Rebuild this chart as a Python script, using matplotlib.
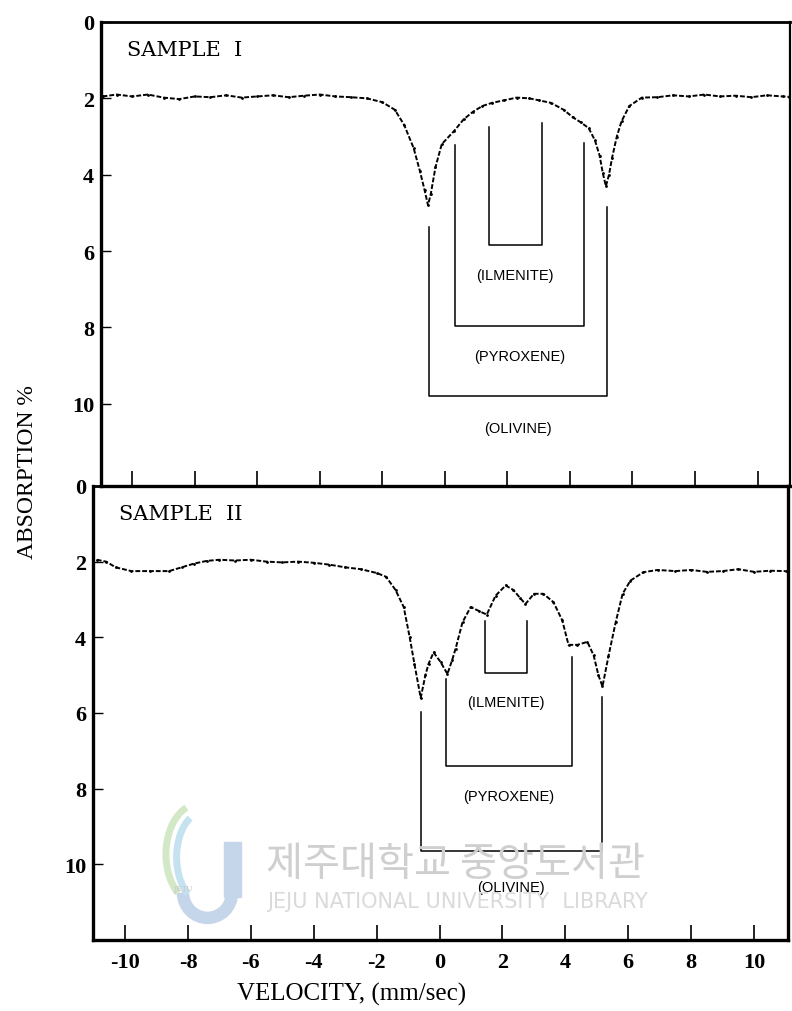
import numpy as np
import matplotlib.pyplot as plt
from matplotlib.patches import Rectangle, Arc

# Mossbauer spectra
vel_1 = [-10.95, -10.5, -10.0, -9.5, -9.0, -8.5, -8.0, -7.5, -7.0, -6.5, -6.0, -5.5,
         -5.0, -4.5, -4.0, -3.5, -3.0, -2.5, -2.0, -1.6, -1.3, -1.0, -0.8, -0.65,
         -0.54, -0.45, -0.3, -0.1, 0.3, 0.6, 0.9, 1.2, 1.5, 1.9, 2.3, 2.7, 3.0, 3.4,
         3.8, 4.1, 4.35, 4.6, 4.8, 4.95, 5.05, 5.15, 5.25, 5.35, 5.5, 5.65, 5.9, 6.3,
         6.8, 7.3, 7.8, 8.3, 8.8, 9.3, 9.8, 10.3, 10.8, 11.0]
abs_1 = [1.95, 1.9, 1.95, 1.9, 1.98, 2.02, 1.95, 1.97, 1.92, 1.98, 1.95, 1.92,
         1.97, 1.93, 1.9, 1.95, 1.97, 2.0, 2.1, 2.3, 2.7, 3.3, 3.9, 4.4,
         4.8, 4.5, 3.8, 3.2, 2.85, 2.55, 2.35, 2.2, 2.12, 2.05, 1.98, 2.0, 2.05, 2.12,
         2.3, 2.5, 2.63, 2.78, 3.1, 3.5, 3.95, 4.3, 4.0, 3.55, 3.0, 2.6, 2.2, 1.98,
         1.97, 1.92, 1.95, 1.9, 1.95, 1.93, 1.97, 1.92, 1.95, 1.96]

vel_2 = [-10.9, -10.6, -10.3, -9.8, -9.2, -8.6, -8.2, -7.8, -7.4, -7.0, -6.5, -6.0,
         -5.5, -5.0, -4.5, -4.0, -3.5, -3.0, -2.5, -2.0, -1.7, -1.4, -1.14, -0.95,
         -0.8, -0.6, -0.45, -0.35, -0.19, 0.03, 0.25, 0.4, 0.51, 0.73, 0.99, 1.24,
         1.5, 1.78, 2.1, 2.35, 2.55, 2.73, 3.0, 3.3, 3.62, 3.9, 4.1, 4.38, 4.7, 4.9,
         5.05, 5.18, 5.37, 5.6, 5.82, 6.07, 6.48, 6.93, 7.5, 8.0, 8.5, 9.0, 9.5,
         10.0, 10.5, 11.0]
abs_2 = [1.95, 2.0, 2.15, 2.25, 2.25, 2.25, 2.15, 2.05, 1.98, 1.95, 1.97, 1.95,
         2.0, 2.02, 2.0, 2.03, 2.08, 2.15, 2.2, 2.3, 2.4, 2.75, 3.2, 4.0,
         4.7, 5.6, 5.0, 4.7, 4.4, 4.65, 4.97, 4.6, 4.3, 3.6, 3.2, 3.3,
         3.4, 2.9, 2.63, 2.75, 2.95, 3.12, 2.85, 2.85, 3.07, 3.55, 4.2, 4.2, 4.12, 4.48,
         5.0, 5.3, 4.5, 3.6, 2.85, 2.5, 2.28, 2.22, 2.25, 2.22, 2.27, 2.25, 2.2,
         2.27, 2.24, 2.25]

# doublet brackets: name, left x, right x, left top, right top, bottom, label y
brackets_1 = [
    ("(ILMENITE)", 1.41, 3.10, 2.74, 2.65, 5.84, 6.63),
    ("(PYROXENE)", 0.32, 4.45, 3.21, 3.16, 7.95, 8.74),
    ("(OLIVINE)", -0.51, 5.18, 5.37, 4.84, 9.79, 10.63),
]
brackets_2 = [
    ("(ILMENITE)", 1.43, 2.77, 3.58, 3.58, 4.95, 5.7),
    ("(PYROXENE)", 0.22, 4.20, 5.10, 4.53, 7.40, 8.2),
    ("(OLIVINE)", -0.60, 5.15, 5.98, 5.57, 9.65, 10.6),
]

y_ticks = [0, 2, 4, 6, 8, 10]
x_ticks = [-10, -8, -6, -4, -2, 0, 2, 4, 6, 8, 10]

fig = plt.figure(figsize=(7.92, 10.12), dpi=100)
ax1 = fig.add_axes([0.1275, 0.5188, 0.870, 0.4585])
ax2 = fig.add_axes([0.1174, 0.0702, 0.8776, 0.4486])


def draw_panel(ax, vel, absn, brackets, name, xlim, ylim, show_xlabels):
    ax.plot(vel, absn, color="black", lw=1.4, ls=(0, (2.5, 1)))
    ax.plot(vel, absn, ".", color="black", ms=2)
    for lab, xl, xr, yl, yr, yb, ylab in brackets:
        ax.plot([xl, xl, xr, xr], [yl, yb, yb, yr], color="black", lw=1.1)
        ax.text((xl + xr) / 2, ylab, lab, ha="center", va="center",
                fontsize=10.5, family="Liberation Sans")
    ax.set_xlim(*xlim)
    ax.set_ylim(ylim, 0)
    ax.set_yticks(y_ticks)
    ax.set_xticks(x_ticks)
    ax.tick_params(axis="y", direction="in", length=7, width=1, pad=5,
                   labelsize=16)
    ax.tick_params(axis="x", direction="in", length=11, width=1.2, pad=9,
                   labelsize=16, labelbottom=show_xlabels)
    for lbl in ax.get_xticklabels() + ax.get_yticklabels():
        lbl.set_family("Liberation Serif")
        lbl.set_fontweight("bold")
    ax.set_xticklabels([str(t) for t in x_ticks] if show_xlabels else [],
                       family="Liberation Serif", fontweight="bold")
    for s in ["left", "bottom"]:
        ax.spines[s].set_linewidth(2.4)
    ax.spines["top"].set_linewidth(2.0)
    ax.spines["right"].set_linewidth(1.6)
    ax.text(0.038, 0.94, name, transform=ax.transAxes, fontsize=15,
            family="DejaVu Serif", va="center")
    ax.set_facecolor("none")


draw_panel(ax1, vel_1, abs_1, brackets_1, "SAMPLE  I", (-11.0, 11.04), 12.15, False)
draw_panel(ax2, vel_2, abs_2, brackets_2, "SAMPLE  II", (-11.02, 11.08), 12.0, True)
ax2.spines["right"].set_linewidth(2.4)

fig.text(0.035, 0.5336, "ABSORPTION %", rotation=90, ha="center", va="center",
         fontsize=17, family="Liberation Serif")
fig.text(0.444, 0.017, "VELOCITY, (mm/sec)", ha="center", va="center",
         fontsize=18, family="Liberation Serif")

# library watermark
fig.text(0.5745, 0.1453, "제주대학교 중앙도서관", ha="center", va="center",
         fontsize=29, color="#cfcfcf", family=["Noto Sans CJK KR", "DejaVu Sans"],
         zorder=0)
fig.text(0.578, 0.1087, "JEJU NATIONAL UNIVERSITY  LIBRARY", ha="center",
         va="center", fontsize=15, color="#dadada", family="DejaVu Sans",
         zorder=0)
fig.patches.append(Rectangle((0.283, 0.113), 0.021, 0.054, transform=fig.transFigure,
                             color="#c6d6ea", zorder=0))
fig.patches.append(Arc((0.262, 0.117), 0.062, 0.05, theta1=180, theta2=360,
                       transform=fig.transFigure, color="#c6d6ea", lw=9, zorder=0))
fig.patches.append(Arc((0.252, 0.155), 0.085, 0.1, theta1=110, theta2=235,
                       transform=fig.transFigure, color="#d3e8c6", lw=5, zorder=0))
fig.patches.append(Arc((0.258, 0.152), 0.07, 0.09, theta1=115, theta2=240,
                       transform=fig.transFigure, color="#c4e2ef", lw=5, zorder=0))
fig.text(0.232, 0.122, "JEJU", ha="center", va="center", fontsize=6,
         color="#c8c8c8", family="DejaVu Serif", zorder=0)

fig.savefig("out.png", dpi=100)
